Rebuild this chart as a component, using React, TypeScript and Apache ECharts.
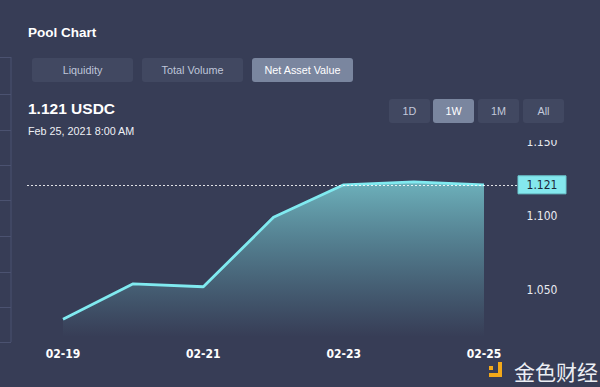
import React, { useEffect, useRef } from "react";
import * as echarts from "echarts";

const dates = ["02-19", "02-20", "02-21", "02-22", "02-23", "02-24", "02-25"];
const navValues = [1.03, 1.054, 1.052, 1.099, 1.121, 1.123, 1.121];
const yTicks = [1.05, 1.1, 1.15];
const currentValue = 1.121;
const tabLabels = ["Liquidity", "Total Volume", "Net Asset Value"];
const rangeLabels = ["1D", "1W", "1M", "All"];
const titleText = "Pool Chart";
const headlineText = "1.121 USDC";
const dateText = "Feb 25, 2021 8:00 AM";

const BG = "#373d56";
const UI_FONT = '"Liberation Sans", Arial, sans-serif';
const AXIS_FONT = '"DejaVu Sans Condensed", "DejaVu Sans", sans-serif';

export default function App() {
  const ref = useRef<HTMLDivElement>(null);

  useEffect(() => {
    if (!ref.current) return;
    const chart = echarts.init(ref.current, undefined, { renderer: "svg" });
    chart.setOption({
      animation: false,
      backgroundColor: BG,
      grid: { left: 63, right: 116, top: 142, bottom: 50 },
      xAxis: {
        type: "category",
        data: dates,
        boundaryGap: false,
        axisLine: { show: false },
        axisTick: { show: false },
        splitLine: { show: false },
        axisLabel: {
          interval: 1,
          color: "#ffffff",
          fontFamily: AXIS_FONT,
          fontWeight: "bold",
          fontSize: 12,
          margin: 11,
        },
      },
      yAxis: {
        type: "value",
        position: "right",
        min: 1.018,
        max: 1.15,
        axisLine: { show: false },
        axisTick: { show: false },
        splitLine: { show: false },
        axisLabel: {
          customValues: yTicks,
          formatter: (v: number) => v.toFixed(3),
          align: "center",
          margin: 58,
          color: "#e9ebf1",
          fontFamily: AXIS_FONT,
          fontSize: 12,
        },
      },
      series: [
        {
          type: "line",
          data: navValues,
          symbol: "none",
          lineStyle: { color: "#80eaf0", width: 2.8 },
          areaStyle: {
            color: new echarts.graphic.LinearGradient(0, 0, 0, 1, [
              { offset: 0, color: "rgba(132,226,230,1)" },
              { offset: 0.45, color: "rgba(115,200,208,0.6)" },
              { offset: 1, color: "rgba(110,190,200,0.0)" },
            ]),
          },
        },
      ],
    });

    const py = chart.convertToPixel({ yAxisIndex: 0 }, currentValue) as number;

    const graphics: any[] = [];
    graphics.push({
      type: "line",
      shape: { x1: 11, y1: 57, x2: 11, y2: 342 },
      style: { stroke: "#4b5270", lineWidth: 1 },
    });
    [57, 94, 130, 165, 200, 236, 272, 307, 342].forEach((y) =>
      graphics.push({
        type: "line",
        shape: { x1: 0, y1: y + 0.5, x2: 11, y2: y + 0.5 },
        style: { stroke: "#4b5270", lineWidth: 1 },
      })
    );
    graphics.push({
      type: "text",
      style: {
        text: titleText,
        x: 28,
        y: 32,
        fill: "#ffffff",
        font: `bold 13.5px ${UI_FONT}`,
        align: "left",
        verticalAlign: "middle",
      },
    });
    const tabX = [32, 142, 252];
    tabLabels.forEach((t, i) => {
      const active = i === 2;
      graphics.push({
        type: "rect",
        shape: { x: tabX[i], y: 58, width: 101, height: 24, r: 3 },
        style: { fill: active ? "#7a869f" : "#414861" },
      });
      graphics.push({
        type: "text",
        style: {
          text: t,
          x: tabX[i] + 50.5,
          y: 70,
          fill: active ? "#ffffff" : "#bfc6d9",
          font: `10.8px ${UI_FONT}`,
          align: "center",
          verticalAlign: "middle",
        },
      });
    });
    graphics.push({
      type: "text",
      style: {
        text: headlineText,
        x: 28,
        y: 108,
        fill: "#ffffff",
        font: `bold 15.5px ${UI_FONT}`,
        align: "left",
        verticalAlign: "middle",
      },
    });
    graphics.push({
      type: "text",
      style: {
        text: dateText,
        x: 28,
        y: 131,
        fill: "#eef0f5",
        font: `10.8px ${UI_FONT}`,
        align: "left",
        verticalAlign: "middle",
      },
    });
    const rangeX = [389, 433, 478, 523];
    rangeLabels.forEach((t, i) => {
      const active = i === 1;
      graphics.push({
        type: "rect",
        shape: { x: rangeX[i], y: 99, width: 41, height: 24, r: 3 },
        style: { fill: active ? "#7a869f" : "#414861" },
      });
      graphics.push({
        type: "text",
        style: {
          text: t,
          x: rangeX[i] + 20.5,
          y: 111,
          fill: active ? "#ffffff" : "#c3c9db",
          font: `10.8px ${UI_FONT}`,
          align: "center",
          verticalAlign: "middle",
        },
      });
    });
    graphics.push({
      type: "rect",
      z: 50,
      shape: { x: 500, y: 124, width: 100, height: 16 },
      style: { fill: BG },
    });
    graphics.push({
      type: "line",
      z: 60,
      shape: { x1: 27, y1: Math.round(py) + 0.5, x2: 518, y2: Math.round(py) + 0.5 },
      style: { stroke: "rgba(255,255,255,0.85)", lineWidth: 1, lineDash: [2, 2] },
    });
    graphics.push({
      type: "rect",
      z: 61,
      shape: { x: 518, y: py - 9, width: 48, height: 18 },
      style: { fill: "#84e8ee", stroke: "#6cc9d0", lineWidth: 1 },
    });
    graphics.push({
      type: "text",
      z: 62,
      style: {
        text: currentValue.toFixed(3),
        x: 542,
        y: py + 0.5,
        fill: "#1e2638",
        font: `12px ${AXIS_FONT}`,
        align: "center",
        verticalAlign: "middle",
      },
    });
    graphics.push({ type: "rect", shape: { x: 498, y: 362, width: 4, height: 15 }, style: { fill: "#f2a91a" } });
    graphics.push({ type: "rect", shape: { x: 489, y: 373, width: 13, height: 4 }, style: { fill: "#f2a91a" } });
    graphics.push({ type: "rect", shape: { x: 489, y: 366, width: 4, height: 4 }, style: { fill: "#f2a91a" } });
    graphics.push({
      type: "text",
      style: {
        text: "金色财经",
        x: 556,
        y: 371,
        fill: "#eceef3",
        font: `21px "Noto Sans CJK SC", sans-serif`,
        align: "center",
        verticalAlign: "middle",
      },
    });

    chart.setOption({ graphic: graphics });
    return () => chart.dispose();
  }, []);

  return (
    <div
      ref={ref}
      style={{ position: "fixed", left: 0, top: 0, width: 600, height: 387 }}
    />
  );
}
